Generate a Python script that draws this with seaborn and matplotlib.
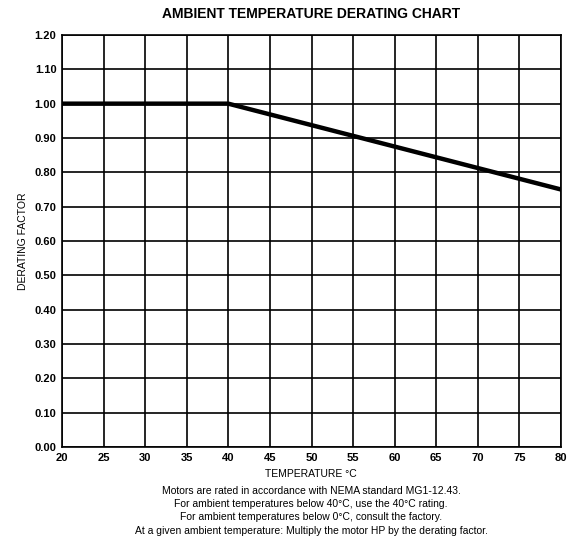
import matplotlib
matplotlib.use("Agg")
import matplotlib.pyplot as plt
import seaborn as sns
import pandas as pd
import numpy as np

temps = [20, 40, 80]
factors = [1.00, 1.00, 0.75]
x_ticks = [20, 25, 30, 35, 40, 45, 50, 55, 60, 65, 70, 75, 80]
y_ticks = [0.00, 0.10, 0.20, 0.30, 0.40, 0.50, 0.60, 0.70, 0.80, 0.90, 1.00, 1.10, 1.20]
title = "AMBIENT TEMPERATURE DERATING CHART"
xlabel = "TEMPERATURE \u00b0C"
ylabel = "DERATING FACTOR"
notes = [
    "Motors are rated in accordance with NEMA standard MG1-12.43.",
    "For ambient temperatures below 40\u00b0C, use the 40\u00b0C rating.",
    "For ambient temperatures below 0\u00b0C, consult the factory.",
    "At a given ambient temperature: Multiply the motor HP by the derating factor.",
]

sns.set_theme(style="white")
plt.rcParams['font.family'] = ['Liberation Sans', 'DejaVu Sans']
plt.rcParams['text.color'] = 'black'
plt.rcParams['axes.labelcolor'] = 'black'
plt.rcParams['xtick.color'] = 'black'
plt.rcParams['ytick.color'] = 'black'

df = pd.DataFrame({"temp": temps, "factor": factors})

fig = plt.figure(figsize=(5.69, 5.41), dpi=100)
ax = fig.add_axes([62/569, 1-447/541, (561-62)/569, (447-35)/541])

sns.lineplot(data=df, x="temp", y="factor", ax=ax, color="black", linewidth=3.2, zorder=5)

ax.set_xlim(20, 80)
ax.set_ylim(0, 1.2)
ax.set_xticks(x_ticks)
ax.set_yticks(y_ticks)
ax.set_xticklabels([str(v) for v in x_ticks], fontsize=8, fontweight="bold")
ax.set_yticklabels([f"{v:.2f}" for v in y_ticks], fontsize=8, fontweight="bold")
ax.tick_params(axis="both", length=0, pad=4)
ax.tick_params(axis="x", pad=4)
ax.grid(True, color="black", linewidth=1.2)
for s in ax.spines.values():
    s.set_color("black")
    s.set_linewidth(1.2)
ax.set_xlabel("")
ax.set_ylabel(ylabel, fontsize=7.5, labelpad=5)

fig.text(311/569, 1-14/541, title, ha="center", va="center", fontsize=10, fontweight="bold")
fig.text(311/569, 1-474/541, xlabel, ha="center", va="center", fontsize=7.5)
ys = [491, 504, 517, 531]
for y, t in zip(ys, notes):
    fig.text(311/569, 1-y/541, t, ha="center", va="center", fontsize=7.5)

fig.savefig("out.png", dpi=100)
